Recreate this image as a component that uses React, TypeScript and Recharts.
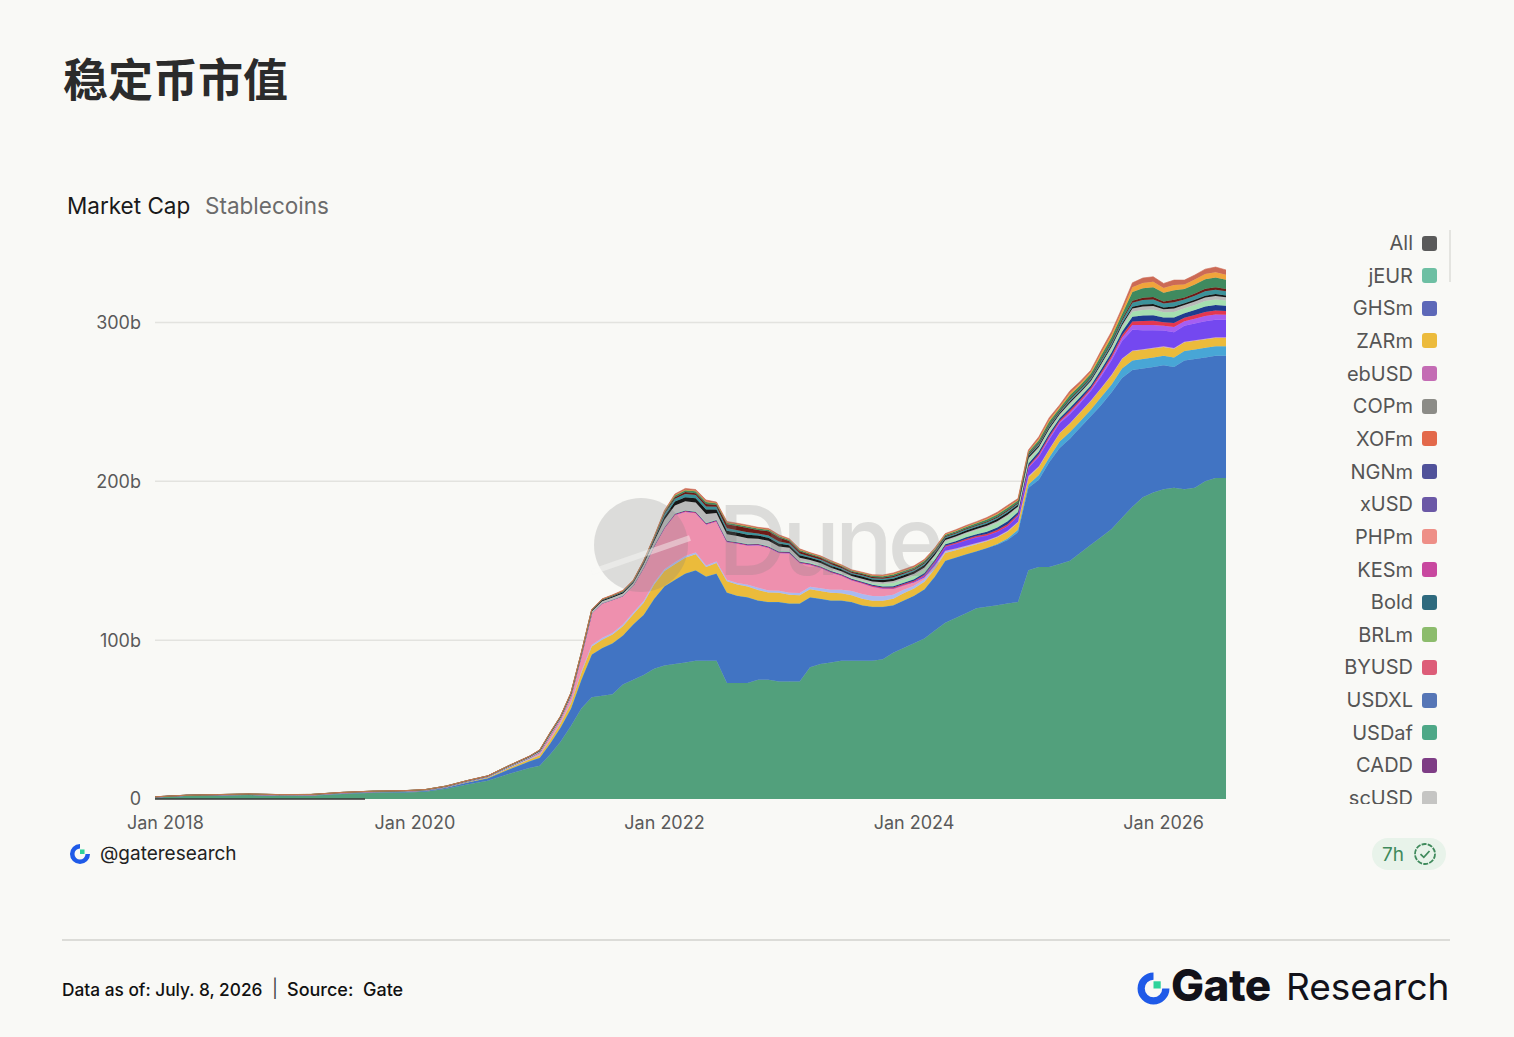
import React from "react";
import { AreaChart, Area, XAxis, YAxis, CartesianGrid, ReferenceLine } from "recharts";

// sample dates (quarterly / bi-monthly before 2021, monthly after)
const dates = [
  "2017-12", "2018-03", "2018-06", "2018-09", "2018-12", "2019-03", "2019-06", "2019-09", "2019-12",
  "2020-02", "2020-04", "2020-06", "2020-08", "2020-10", "2020-12",
  "2021-01", "2021-02", "2021-03", "2021-04", "2021-05", "2021-06", "2021-07", "2021-08", "2021-09", "2021-10", "2021-11", "2021-12",
  "2022-01", "2022-02", "2022-03", "2022-04", "2022-05", "2022-06", "2022-07", "2022-08", "2022-09", "2022-10", "2022-11", "2022-12",
  "2023-01", "2023-02", "2023-03", "2023-04", "2023-05", "2023-06", "2023-07", "2023-08", "2023-09", "2023-10", "2023-11", "2023-12",
  "2024-01", "2024-02", "2024-03", "2024-04", "2024-05", "2024-06", "2024-07", "2024-08", "2024-09", "2024-10", "2024-11", "2024-12",
  "2025-01", "2025-02", "2025-03", "2025-04", "2025-05", "2025-06", "2025-07", "2025-08", "2025-09", "2025-10", "2025-11", "2025-12",
  "2026-01", "2026-02", "2026-03", "2026-04", "2026-05", "2026-06", "2026-07",
];

// market cap, billions USD
const usdt = [
  1.2, 2.2, 2.5, 2.6, 1.9, 2.0, 3.2, 3.9, 4.1, 4.6, 6.4, 9.2, 11.5, 15.8, 19.5,
  21, 28, 36, 46, 57, 64, 65, 66, 72, 75, 78, 82,
  84, 85, 86, 87, 87, 87, 73, 73, 73, 75, 75, 74,
  74, 74, 83, 85, 86, 87, 87, 87, 87, 88, 92, 95,
  98, 101, 106, 111, 114, 117, 120, 121, 122, 123, 124, 144,
  146, 146, 148, 150, 155, 160, 165, 170, 177, 184, 190, 193,
  195, 196, 195, 196, 200, 202, 202,
];
const usdc = [
  0, 0, 0.01, 0.1, 0.25, 0.25, 0.35, 0.45, 0.5, 0.6, 0.8, 1.2, 1.6, 2.8, 4.2,
  5, 7, 9, 11, 18, 27, 30, 32, 31, 35, 38, 44,
  50, 53, 56, 57, 53, 55, 57, 55, 54, 50, 49, 50,
  49, 49, 44, 41, 39, 38, 37, 35, 34, 33, 30, 30,
  30, 31, 34, 39, 38, 37, 36, 37, 38, 40, 44, 52,
  55, 66, 73, 77, 79, 81, 83, 86, 88, 86, 81, 79,
  78, 76, 81, 81, 78, 77, 77,
];
const usds = [
  0, 0, 0, 0, 0, 0, 0, 0, 0, 0, 0, 0, 0, 0, 0,
  0, 0, 0, 0, 0, 0, 0, 0, 0, 0, 0, 0,
  0, 0, 0, 0, 0, 0, 0, 0, 0, 0, 0, 0,
  0, 0, 0, 0, 0, 0, 0, 0, 0, 0, 0, 0,
  0, 0, 0, 0, 0, 0, 0, 0, 0.5, 1, 1.5, 2,
  3, 3, 4, 4, 4, 4, 5, 5, 6, 6, 6, 6,
  6, 6, 6, 6, 6, 6, 6,
];
const dai = [
  0.05, 0.05, 0.06, 0.07, 0.08, 0.09, 0.08, 0.08, 0.1, 0.12, 0.11, 0.14, 0.4, 0.8, 1.2,
  1.5, 2.0, 2.6, 3.3, 4.5, 5.0, 5.3, 5.5, 5.8, 6.3, 7.5, 9.0,
  9.5, 9.8, 9.8, 10.0, 6.0, 6.5, 7.0, 7.0, 6.8, 6.5, 6.0, 5.8,
  5.5, 5.2, 5.0, 5.0, 4.8, 4.5, 4.3, 4.0, 3.8, 3.8, 4.0, 4.5,
  4.5, 4.8, 5.0, 4.8, 4.6, 4.5, 4.4, 4.3, 4.2, 4.3, 4.5, 4.6,
  5.0, 5.0, 5.2, 5.4, 5.5, 5.5, 5.6, 5.8, 6.0, 6.0, 5.8, 5.7,
  5.6, 5.5, 5.5, 5.4, 5.4, 5.3, 5.3,
];
const tusd = [
  0, 0.01, 0.05, 0.1, 0.2, 0.2, 0.2, 0.2, 0.15, 0.15, 0.2, 0.3, 0.4, 0.4, 0.4,
  0.4, 0.5, 0.5, 0.6, 0.7, 0.9, 1.0, 1.0, 1.1, 1.1, 1.2, 1.2,
  1.2, 1.2, 1.2, 1.2, 1.0, 1.0, 1.0, 1.0, 1.0, 1.5, 1.3, 1.3,
  1.4, 1.5, 1.6, 1.7, 2.0, 2.3, 2.6, 3.0, 3.0, 2.8, 2.5, 2.2,
  1.8, 1.5, 1.2, 1.0, 0.8, 0.7, 0.6, 0.5, 0.5, 0.5, 0.5, 0.6,
  0.4, 0.3, 0.3, 0.3, 0.3, 0.3, 0.3, 0.3, 0.3, 0.3, 0.3, 0.3,
  0.3, 0.3, 0.3, 0.3, 0.3, 0.3, 0.3,
];
const busd = [
  0, 0, 0, 0, 0, 0, 0, 0.02, 0.02, 0.03, 0.15, 0.15, 0.2, 0.3, 0.6,
  1.5, 2.5, 2.5, 4, 10, 20, 22, 21, 18, 17, 21, 23,
  26, 30, 28, 25, 26, 25.5, 24, 25, 25, 27, 27, 24,
  25, 19, 14, 13, 11, 9, 7, 7, 6, 5, 4, 3,
  2, 1.2, 0.8, 0.5, 0.3, 0.2, 0.2, 0.1, 0.1, 0.1, 0.1, 0.1,
  0.05, 0.05, 0.05, 0.05, 0.05, 0.05, 0.05, 0.05, 0.05, 0.05, 0.05, 0.05,
  0.05, 0.05, 0.05, 0.05, 0.05, 0.05, 0.05,
];
const usde = [
  0, 0, 0, 0, 0, 0, 0, 0, 0, 0, 0, 0, 0, 0, 0,
  0, 0, 0, 0, 0, 0, 0, 0, 0, 0, 0, 0,
  0, 0, 0, 0, 0, 0, 0, 0, 0, 0, 0, 0,
  0, 0, 0, 0, 0, 0, 0, 0, 0, 0, 0, 0,
  0.5, 1, 2, 2.5, 3, 3.5, 3.5, 3, 3, 3, 3.5, 5,
  6, 6, 6, 5.5, 5.5, 6, 7, 9, 11, 13, 12, 11,
  10, 10, 10, 10.5, 11, 11, 11,
];
const usd1 = [
  0, 0, 0, 0, 0, 0, 0, 0, 0, 0, 0, 0, 0, 0, 0,
  0, 0, 0, 0, 0, 0, 0, 0, 0, 0, 0, 0,
  0, 0, 0, 0, 0, 0, 0, 0, 0, 0, 0, 0,
  0, 0, 0, 0, 0, 0, 0, 0, 0, 0, 0, 0,
  0, 0, 0, 0, 0, 0, 0, 0, 0, 0, 0.2, 0.5,
  0.8, 1.0, 0.8, 1.2, 1.1, 1.0, 1.4, 1.6, 2.0, 3.0, 3.3, 3.4,
  3.0, 3.3, 2.9, 3.1, 3.3, 3.4, 3.2,
];
const pyusd = [
  0, 0, 0, 0, 0, 0, 0, 0, 0, 0, 0, 0, 0, 0, 0,
  0, 0, 0, 0, 0, 0, 0, 0, 0, 0, 0.05, 0.1,
  0.2, 0.3, 0.3, 0.3, 0.3, 0.3, 0.3, 0.3, 0.3, 0.3, 0.3, 0.3,
  0.3, 0.3, 0.3, 0.3, 0.3, 0.3, 0.3, 0.3, 0.4, 0.5, 0.6, 0.6,
  0.6, 0.7, 0.6, 0.6, 0.6, 0.7, 0.8, 0.9, 1.0, 1.1, 0.9, 0.9,
  1.0, 1.1, 0.9, 1.2, 1.1, 1.0, 1.3, 1.4, 1.6, 2.2, 2.5, 2.6,
  2.2, 2.5, 2.2, 2.3, 2.5, 2.5, 2.4,
];
const fdusd = [
  0, 0, 0, 0, 0, 0, 0, 0, 0, 0, 0, 0, 0, 0, 0,
  0, 0, 0, 0, 0, 0, 0, 0, 0, 0, 0.05, 0.1,
  0.2, 0.3, 0.3, 0.3, 0.3, 0.3, 0.3, 0.3, 0.3, 0.3, 0.4, 0.4,
  0.4, 0.4, 0.4, 0.4, 0.4, 0.4, 0.4, 0.5, 0.6, 0.7, 0.9, 0.9,
  1.0, 1.1, 1.0, 0.9, 1.0, 1.1, 1.2, 1.4, 1.6, 1.8, 1.5, 1.5,
  1.5, 1.6, 1.4, 1.7, 1.6, 1.5, 1.8, 2.0, 2.2, 3.0, 3.4, 3.5,
  3.0, 3.4, 2.9, 3.1, 3.4, 3.4, 3.2,
];
const rlusd = [
  0, 0, 0, 0, 0, 0, 0, 0, 0, 0, 0, 0, 0, 0, 0,
  0, 0, 0, 0, 0, 0, 0, 0, 0, 0, 0.05, 0.1,
  0.2, 0.2, 0.3, 0.3, 0.3, 0.3, 0.3, 0.3, 0.3, 0.3, 0.3, 0.3,
  0.4, 0.5, 0.5, 0.6, 0.6, 0.6, 0.7, 0.8, 1.0, 1.5, 2.0, 2.0,
  2.2, 2.4, 2.0, 1.8, 2.0, 2.2, 2.4, 2.8, 3.0, 3.2, 2.6, 2.6,
  1.8, 2.0, 1.6, 2.0, 1.9, 1.8, 2.2, 2.4, 2.6, 3.2, 3.5, 3.6,
  3.2, 3.5, 3.1, 3.3, 3.5, 3.5, 3.3,
];
const usdp = [
  0.07, 0.07, 0.09, 0.17, 0.19, 0.18, 0.19, 0.18, 0.22, 0.25, 0.27, 0.3, 0.25, 0.45, 0.5,
  0.7, 0.9, 0.7, 0.9, 0.9, 1.1, 1.2, 1.3, 1.5, 1.5, 2.0, 2.6,
  4.5, 5.0, 5.5, 5.5, 5.5, 4.2, 3.8, 3.6, 3.5, 3.0, 3.2, 2.8,
  2.2, 2.0, 1.6, 1.5, 1.4, 1.2, 1.1, 1.1, 1.1, 1.1, 1.2, 1.2,
  1.2, 1.1, 1.0, 0.9, 0.9, 0.9, 0.9, 1.0, 1.0, 1.0, 0.9, 0.9,
  1.0, 1.0, 0.9, 1.1, 1.0, 1.0, 1.2, 1.3, 1.5, 2.0, 2.2, 2.2,
  2.0, 2.2, 2.0, 2.1, 2.2, 2.2, 2.1,
];
const gusd = [
  0.04, 0.04, 0.05, 0.09, 0.1, 0.1, 0.1, 0.09, 0.11, 0.13, 0.14, 0.16, 0.13, 0.23, 0.28,
  0.35, 0.4, 0.35, 0.4, 0.4, 0.5, 0.55, 0.6, 0.7, 0.7, 0.9, 1.2,
  2.0, 2.4, 2.6, 2.7, 2.8, 2.2, 2.2, 2.2, 2.2, 1.9, 2.0, 1.9,
  1.6, 1.6, 1.4, 1.4, 1.4, 1.3, 1.2, 1.3, 1.3, 1.4, 1.5, 1.5,
  1.5, 1.5, 1.3, 1.2, 1.2, 1.2, 1.2, 1.3, 1.3, 1.3, 1.1, 1.1,
  0.9, 0.9, 0.8, 0.9, 0.8, 0.8, 0.9, 0.9, 1.0, 1.1, 1.2, 1.2,
  1.1, 1.2, 1.1, 1.1, 1.2, 1.2, 1.1,
];
const lusd = [
  0.02, 0.02, 0.02, 0.04, 0.05, 0.05, 0.05, 0.05, 0.06, 0.07, 0.08, 0.09, 0.07, 0.12, 0.17,
  0.25, 0.3, 0.25, 0.3, 0.3, 0.35, 0.4, 0.45, 0.5, 0.5, 0.6, 0.8,
  1.6, 1.8, 2.0, 2.0, 2.0, 1.6, 1.5, 1.5, 1.5, 1.3, 1.4, 1.3,
  1.0, 1.0, 0.9, 0.9, 0.9, 0.8, 0.7, 0.8, 0.8, 0.8, 0.9, 0.9,
  0.9, 0.9, 0.8, 0.7, 0.7, 0.8, 0.8, 0.9, 0.9, 1.0, 0.8, 0.8,
  1.0, 1.1, 0.9, 1.2, 1.1, 1.1, 1.4, 1.5, 1.8, 2.5, 2.8, 2.9,
  2.5, 2.8, 2.4, 2.6, 2.8, 2.8, 2.7,
];
const ustc = [
  0, 0, 0, 0, 0, 0, 0, 0, 0, 0, 0, 0, 0, 0, 0,
  0.05, 0.1, 0.1, 0.15, 0.1, 0.15, 0.15, 0.2, 0.2, 0.2, 0.3, 0.4,
  0.8, 1.0, 1.2, 1.2, 1.5, 1.2, 2.5, 2.6, 2.7, 2.3, 2.6, 2.5,
  1.6, 1.5, 1.1, 1.0, 1.0, 0.9, 0.8, 0.8, 0.8, 0.8, 0.8, 0.8,
  0.6, 0.6, 0.5, 0.5, 0.5, 0.5, 0.5, 0.5, 0.6, 0.6, 0.5, 0.5,
  0.6, 0.6, 0.5, 0.6, 0.6, 0.6, 0.7, 0.8, 0.9, 1.3, 1.5, 1.5,
  1.3, 1.5, 1.3, 1.4, 1.5, 1.5, 1.4,
];
const frax = [
  0, 0, 0, 0, 0, 0, 0, 0, 0, 0, 0, 0, 0, 0, 0,
  0.1, 0.1, 0.1, 0.15, 0.1, 0.15, 0.15, 0.2, 0.2, 0.2, 0.3, 0.4,
  0.8, 1.0, 1.2, 1.2, 1.3, 1.0, 1.0, 1.0, 1.0, 0.9, 1.0, 0.9,
  0.8, 0.8, 0.7, 0.7, 0.7, 0.6, 0.6, 0.6, 0.7, 0.8, 1.0, 1.0,
  1.0, 1.1, 1.0, 0.9, 1.0, 1.0, 1.1, 1.3, 1.4, 1.5, 1.3, 1.3,
  1.8, 2.0, 1.7, 2.2, 2.0, 2.0, 2.5, 2.8, 3.2, 5.5, 6.0, 6.2,
  5.5, 6.0, 5.3, 5.6, 6.0, 6.1, 5.8,
];
const usd0 = [
  0, 0, 0, 0, 0, 0, 0, 0, 0, 0, 0, 0, 0, 0, 0,
  0, 0, 0, 0, 0, 0, 0, 0, 0, 0, 0, 0,
  0.2, 0.3, 0.3, 0.3, 0.3, 0.2, 0.2, 0.2, 0.2, 0.2, 0.2, 0.2,
  0.2, 0.2, 0.2, 0.2, 0.2, 0.2, 0.2, 0.2, 0.2, 0.3, 0.3, 0.3,
  0.3, 0.3, 0.3, 0.3, 0.3, 0.3, 0.3, 0.4, 0.5, 0.5, 0.4, 0.4,
  1.0, 1.1, 0.9, 1.3, 1.2, 1.1, 1.5, 1.7, 2.0, 3.0, 3.3, 3.4,
  3.0, 3.3, 2.9, 3.1, 3.3, 3.4, 3.2,
];
const other = [
  0.02, 0.01, 0.02, 0.03, 0.03, 0.03, 0.03, 0.03, 0.04, 0.05, 0.05, 0.06, 0.05, 0.1, 0.15,
  0.15, 0.2, 0.1, 0.2, 0.2, 0.25, 0.25, 0.25, 0.4, 0.4, 0.3, 0.3,
  0.5, 0.7, 0.8, 0.8, 0.9, 0.6, 0.6, 0.6, 0.6, 0.5, 0.6, 0.6,
  0.5, 0.5, 0.4, 0.4, 0.4, 0.4, 0.4, 0.4, 0.5, 0.5, 0.6, 0.6,
  0.7, 0.7, 0.6, 0.5, 0.6, 0.6, 0.7, 0.8, 0.9, 1.0, 0.9, 0.9,
  1.2, 1.3, 1.1, 1.4, 1.3, 1.2, 1.6, 1.8, 2.0, 2.8, 3.1, 3.2,
  2.8, 3.1, 2.7, 2.9, 3.1, 3.2, 3.0,
];

// stacking order bottom -> top
const SERIES = [
  { key: "USDT", values: usdt, color: "#52a07c" },
  { key: "USDC", values: usdc, color: "#4174c3" },
  { key: "USDS", values: usds, color: "#48a6d6" },
  { key: "DAI", values: dai, color: "#ebbb3b" },
  { key: "TUSD", values: tusd, color: "#a9baf1" },
  { key: "BUSD", values: busd, color: "#ee90ae" },
  { key: "USDe", values: usde, color: "#7448f0" },
  { key: "USD1", values: usd1, color: "#a55ff2" },
  { key: "PYUSD", values: pyusd, color: "#e4374f" },
  { key: "FDUSD", values: fdusd, color: "#1f3c8f" },
  { key: "RLUSD", values: rlusd, color: "#a5dfb0" },
  { key: "USDP", values: usdp, color: "#b9b9b9" },
  { key: "GUSD", values: gusd, color: "#171717" },
  { key: "LUSD", values: lusd, color: "#3c929a" },
  { key: "USTC", values: ustc, color: "#6e1b16" },
  { key: "FRAX", values: frax, color: "#3f8a5f" },
  { key: "USD0", values: usd0, color: "#f0a43c" },
  { key: "Other", values: other, color: "#cc6a55" },
];

const legendNames = ["All", "jEUR", "GHSm", "ZARm", "ebUSD", "COPm", "XOFm", "NGNm", "xUSD", "PHPm", "KESm", "Bold", "BRLm", "BYUSD", "USDXL", "USDaf", "CADD", "scUSD"];
const legendColors = ["#5a5a5a", "#6dbfa3", "#5d68b8", "#ecbb3c", "#c46cb4", "#8c8c87", "#e3694a", "#50529a", "#6b58a6", "#ee8f87", "#c8489f", "#2e6a7e", "#8cbc6c", "#dd5d78", "#5676b6", "#4ea887", "#7e3d85", "#c5c5c3"];

const yTicks = [0, 100, 200, 300];
const xTicks = [2018, 2020, 2022, 2024, 2026];

const chartData = dates.map((d, i) => {
  const [yr, mo] = d.split("-").map(Number);
  const row: any = { t: yr + (mo - 1) / 12 };
  SERIES.forEach((s) => {
    row[s.key] = s.values[i];
  });
  return row;
});

const GateIcon = ({ size }: { size: number }) => (
  <svg width={size} height={size} viewBox="0 0 34 34">
    <path d="M29 17 A12 12 0 1 1 17 5" stroke="#1f5ae8" strokeWidth={7} fill="none" />
    <rect x={17} y={10} width={7} height={7} fill="#2ed39a" />
  </svg>
);

const App = () => {
  const abs = (left: number, top: number, extra: any = {}) => ({
    position: "absolute" as const,
    left,
    top,
    whiteSpace: "pre" as const,
    ...extra,
  });

  return (
    <div
      style={{
        position: "absolute",
        left: 0,
        top: 0,
        width: 1514,
        height: 1037,
        background: "#f9f9f6",
        fontFamily: "Inter, 'Noto Sans', sans-serif",
        overflow: "hidden",
      }}
    >
      <div
        style={abs(63, 53, {
          fontFamily: "'Noto Sans CJK SC', sans-serif",
          fontSize: 45,
          fontWeight: 700,
          lineHeight: "50px",
          color: "#2b2b2b",
        })}
      >
        稳定币市值
      </div>

      <div style={abs(67, 193, { fontSize: 22.5, lineHeight: "26px", color: "#1a1a1a" })}>Market Cap</div>
      <div style={abs(205, 193, { fontSize: 22.5, lineHeight: "26px", color: "#6b6b6b" })}>Stablecoins</div>

      <div style={{ position: "absolute", left: 0, top: 200 }}>
        <AreaChart
          width={1240}
          height={640}
          data={chartData}
          margin={{ top: 43, right: 14, left: 0, bottom: 11 }}
        >
          <CartesianGrid
            horizontal
            vertical={false}
            horizontalValues={[100, 200, 300]}
            stroke="#e3e3df"
            strokeWidth={1.5}
          />
          <XAxis
            dataKey="t"
            type="number"
            domain={[2017.9167, 2026.5]}
            ticks={xTicks}
            tickFormatter={(v) => `Jan ${v}`}
            axisLine={false}
            tickLine={false}
            tickSize={6}
            tickMargin={11}
            height={30}
            tick={{ fontSize: 18, fill: "#5a5a5a" }}
          />
          <YAxis
            type="number"
            domain={[0, 350]}
            ticks={yTicks}
            tickFormatter={(v) => (v === 0 ? "0" : `${v}b`)}
            axisLine={false}
            tickLine={false}
            tickSize={6}
            tickMargin={8}
            width={155}
            tick={{ fontSize: 18, fill: "#5a5a5a" }}
          />
          <ReferenceLine
            segment={[
              { x: 2017.9167, y: 0 },
              { x: 2019.6, y: 0 },
            ]}
            stroke="#3a3a3a"
            strokeWidth={1.5}
          />
          {SERIES.map((s) => (
            <Area
              key={s.key}
              dataKey={s.key}
              stackId="a"
              type="linear"
              fill={s.color}
              fillOpacity={1}
              stroke={s.color}
              strokeWidth={0.6}
              dot={false}
              activeDot={false}
              isAnimationActive={false}
            />
          ))}
        </AreaChart>
      </div>

      {/* Dune watermark */}
      <svg style={abs(586, 498)} width={130} height={100}>
        <circle cx={55} cy={47} r={47} fill="rgba(130,130,130,0.24)" />
        <path d="M6 74 L 104 40" stroke="rgba(249,249,246,0.45)" strokeWidth={6} />
      </svg>
      <div
        style={abs(718, 484, {
          fontSize: 96,
          lineHeight: "112px",
          fontWeight: 500,
          letterSpacing: -5,
          color: "rgba(130,130,130,0.24)",
        })}
      >
        Dune
      </div>

      {/* legend */}
      <div style={{ position: "absolute", left: 1300, top: 228, width: 145, height: 576, overflow: "hidden" }}>
        {legendNames.map((n, i) => (
          <div
            key={n}
            style={{
              position: "absolute",
              right: 8,
              top: 3 + i * 32.65,
              height: 24,
              display: "flex",
              alignItems: "center",
              gap: 9,
              fontSize: 20,
              color: "#555",
            }}
          >
            <span>{n}</span>
            <span
              style={{
                display: "inline-block",
                width: 15,
                height: 15,
                borderRadius: 3,
                background: legendColors[i],
              }}
            />
          </div>
        ))}
      </div>
      <div style={{ position: "absolute", left: 1449, top: 230, width: 2, height: 52, background: "#e4e4e0" }} />

      {/* handle + freshness badge */}
      <div style={abs(69, 843)}>
        <GateIcon size={22} />
      </div>
      <div style={abs(100, 842, { fontSize: 19, lineHeight: "24px", color: "#222" })}>@gateresearch</div>

      <div
        style={{
          position: "absolute",
          left: 1372,
          top: 838,
          width: 74,
          height: 32,
          borderRadius: 16,
          background: "#e8f3ea",
          display: "flex",
          alignItems: "center",
          gap: 8,
          paddingLeft: 10,
          boxSizing: "border-box",
          color: "#3f8a5c",
          fontSize: 19,
        }}
      >
        <span>7h</span>
        <svg width={26} height={26} viewBox="0 0 26 26">
          <circle cx={13} cy={13} r={10} fill="none" stroke="#3f8a5c" strokeWidth={1.8} strokeDasharray="5 1.2" />
          <path d="M8.5 13.2 L11.8 16.3 L17.5 10" fill="none" stroke="#3f8a5c" strokeWidth={1.8} />
        </svg>
      </div>

      <div style={{ position: "absolute", left: 62, top: 939, width: 1388, height: 2, background: "#dcdcd8" }} />

      <div style={abs(62, 978, { fontSize: 17.3, lineHeight: "24px", fontWeight: 500, color: "#111" })}>
        Data as of: July. 8, 2026
      </div>
      <div style={abs(272, 977, { fontSize: 18, lineHeight: "24px", color: "#444" })}>|</div>
      <div style={abs(287, 978, { fontSize: 18, lineHeight: "24px", fontWeight: 500, color: "#111" })}>
        Source:  Gate
      </div>

      <div style={abs(1136, 971)}>
        <GateIcon size={35} />
      </div>
      <div
        style={abs(1171, 959, { fontSize: 44, lineHeight: "52px", fontWeight: 800, letterSpacing: -0.5, color: "#12121a" })}
      >
        Gate
      </div>
      <div style={abs(1286, 963, { fontSize: 37, lineHeight: "48px", fontWeight: 400, color: "#12121a" })}>
        Research
      </div>
    </div>
  );
};

export default App;
